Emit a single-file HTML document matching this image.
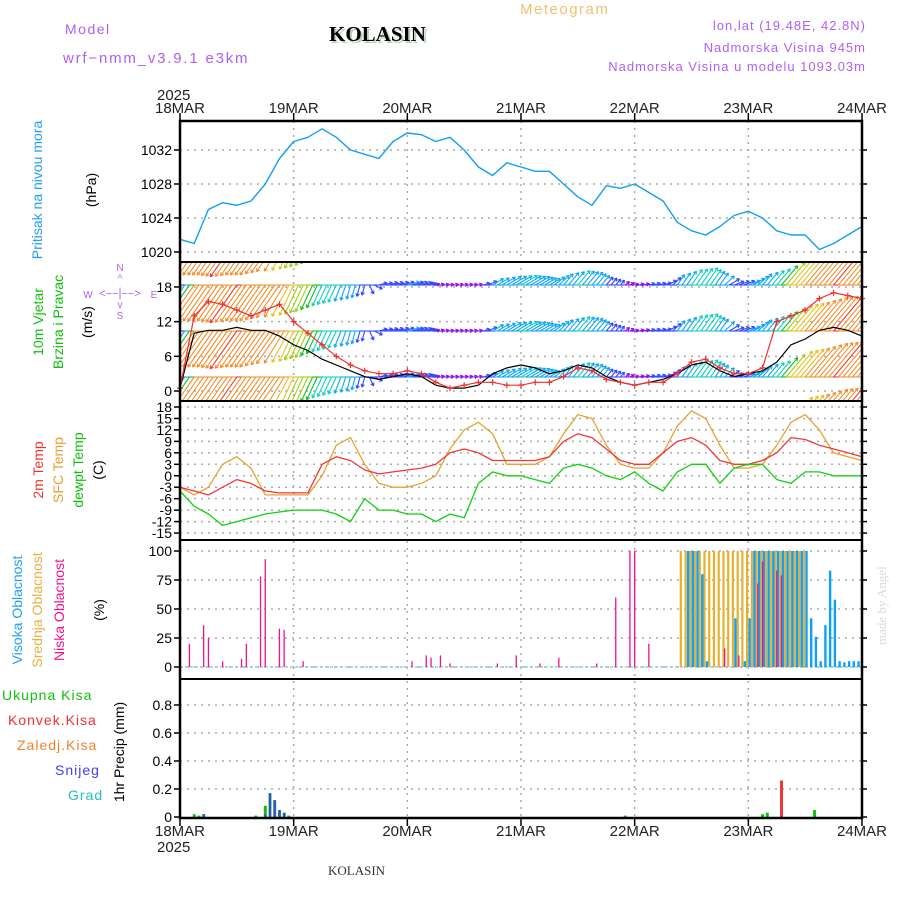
<!DOCTYPE html>
<html><head><meta charset="utf-8"><style>
html,body{margin:0;padding:0;background:#fff;}
svg{display:block;font-family:"Liberation Sans",sans-serif;}
</style></head><body>
<svg id="chart" width="900" height="900" viewBox="0 0 900 900" xmlns="http://www.w3.org/2000/svg">
<defs>
<clipPath id="clipW"><rect x="180" y="262" width="682" height="139"/></clipPath>
</defs>
<rect width="900" height="900" fill="#fff"/>
<text x="65" y="34" font-size="14" fill="#b060f0" letter-spacing="1.5">Model</text>
<text x="63" y="63" font-size="15" fill="#b060f0" letter-spacing="1.8">wrf−nmm_v3.9.1 e3km</text>
<text x="331" y="43" font-size="21" font-weight="bold" font-family="Liberation Serif,serif" fill="#b8d0b8">KOLASIN</text>
<text x="329" y="41" font-size="21" font-weight="bold" font-family="Liberation Serif,serif" fill="#000">KOLASIN</text>
<text x="520" y="14" font-size="15" fill="#f0c070" letter-spacing="1.5">Meteogram</text>
<text x="866" y="30" font-size="13" fill="#b060f0" text-anchor="end" letter-spacing="1">lon,lat (19.48E, 42.8N)</text>
<text x="866" y="52" font-size="13" fill="#b060f0" text-anchor="end" letter-spacing="1">Nadmorska Visina 945m</text>
<text x="866" y="71" font-size="13" fill="#b060f0" text-anchor="end" letter-spacing="1">Nadmorska Visina u modelu 1093.03m</text>
<text x="157" y="100" font-size="15" fill="#222">2025</text>
<text x="157" y="852" font-size="15" fill="#222">2025</text>
<text x="328" y="875" font-size="13" font-family="Liberation Serif,serif" fill="#333">KOLASIN</text>
<text transform="translate(886,645) rotate(-90)" font-size="13" font-family="Liberation Serif,serif" fill="#d8ddd8">made by Angel</text>
<g font-size="14">
<text transform="translate(42,190) rotate(-90)" text-anchor="middle" fill="#20a0f0">Pritisak na nivou mora</text>
<text transform="translate(96,190) rotate(-90)" text-anchor="middle" fill="#000">(hPa)</text>
<text transform="translate(43,322) rotate(-90)" text-anchor="middle" fill="#10c010">10m Vjetar</text>
<text transform="translate(63,322) rotate(-90)" text-anchor="middle" fill="#10c010">Brzina i Pravac</text>
<text transform="translate(92,322) rotate(-90)" text-anchor="middle" fill="#000">(m/s)</text>
<text transform="translate(43,470) rotate(-90)" text-anchor="middle" fill="#f03030">2m Temp</text>
<text transform="translate(63,470) rotate(-90)" text-anchor="middle" fill="#e8a030">SFC Temp</text>
<text transform="translate(83,470) rotate(-90)" text-anchor="middle" fill="#10c010">dewpt Temp</text>
<text transform="translate(103,470) rotate(-90)" text-anchor="middle" fill="#000">(C)</text>
<text transform="translate(22,610) rotate(-90)" text-anchor="middle" fill="#20a0f0">Visoka Oblacnost</text>
<text transform="translate(42,610) rotate(-90)" text-anchor="middle" fill="#e8b040">Srednja Oblacnost</text>
<text transform="translate(64,610) rotate(-90)" text-anchor="middle" fill="#f01090">Niska Oblacnost</text>
<text transform="translate(104,610) rotate(-90)" text-anchor="middle" fill="#000">(%)</text>
<text x="2" y="700" fill="#10c010" letter-spacing="1">Ukupna  Kisa</text>
<text x="8" y="725" fill="#f03030" letter-spacing="1">Konvek.Kisa</text>
<text x="17" y="750" fill="#f08030" letter-spacing="1">Zaledj.Kisa</text>
<text x="55" y="775" fill="#4040f0" letter-spacing="1">Snijeg</text>
<text x="68" y="800" fill="#20c0c0" letter-spacing="1">Grad</text>
<text transform="translate(124,752) rotate(-90)" text-anchor="middle" fill="#000">1hr Precip (mm)</text>
</g>
<g fill="#b060f0" font-size="10">
<text x="120" y="271" text-anchor="middle">N</text>
<text x="120" y="282" text-anchor="middle">^</text>
<text x="120" y="295" text-anchor="middle">|</text>
<text x="120" y="297" text-anchor="middle" font-size="11">&lt;−−|−−&gt;</text>
<text x="88" y="298" text-anchor="middle">W</text>
<text x="154" y="298" text-anchor="middle">E</text>
<text x="120" y="308" text-anchor="middle">v</text>
<text x="120" y="319" text-anchor="middle">S</text>
</g>
<g id="plot"></g>
</svg>
<script>
// ---------- data (3-hourly from 18MAR 00 UTC) ----------
const hours3 = [0,3,6,9,12,15,18,21,24,27,30,33,36,39,42,45,48,51,54,57,60,63,66,69,72,75,78,81,84,87,90,93,96,99,102,105,108,111,114,117,120,123,126,129,132,135,138,141,144];
const dayLabels = ["18MAR","19MAR","20MAR","21MAR","22MAR","23MAR","24MAR"];
const pressure = [1021.5,1021,1025,1025.8,1025.5,1026,1028,1031,1033,1033.5,1034.5,1033.5,1032,1031.5,1031,1033,1034,1033.8,1033,1033.5,1032,1030,1029,1030.5,1030,1029.5,1029.5,1028,1026.5,1025.5,1027.8,1027.5,1028,1027,1026,1023.5,1022.5,1022,1023,1024.3,1024.8,1024,1022.5,1022,1022,1020.3,1021,1022,1023];
const pressureTicks = [1020,1024,1028,1032];
const windSpeed = [0.5,10,10.5,10.5,11,10.5,10.5,9.5,8,7,5.5,4.5,3.5,2.5,2,2.5,3,2.5,1,0.5,0.5,1,3,4,4.5,4,3,3.5,4.5,4,2.5,1.5,1,1.5,2,3,4.5,5,3.5,2.5,3,3.5,5,8,9,10.5,11,10.5,9.5];
const windGust = [0.5,13,15.5,15,14,13,14,15,12,10,8,6,4.5,3.5,3,3,3.5,3,1.5,0.5,1,1.5,1.5,1,1,1.5,1.5,2.5,4,3.5,2,1.5,1,1.5,1.5,3,5,5.5,4,3,3,4,12,13,14,16,17,16.5,16];
const windDir = [235,235,235,235,235,235,235,235,245,245,245,245,255,255,15,15,15,15,15,10,10,10,30,30,30,30,30,50,50,50,50,50,15,15,15,55,55,55,55,20,20,50,50,50,50,50,50,50,50];
const windTicks = [0,6,12,18];
const temp2m = [-3,-4,-5,-3,-1,-2,-4,-4.5,-4.5,-4.5,3,5,4,1.5,0.5,1,1.5,2,3,6,7,6,4,4,4,4,5,9,11,10,7,4,3,3,6,9,10,8,4,3,3,4,6,10,9.5,8,7,6,5];
const tempSfc = [-3,-5,-3,3,5,2,-5,-5,-5,-5,0,8,10,3,-2,-3,-3,-2,0,7,12,14,11,3,3,3,5,11,16,15,8,3,2,2,6,13,17,15,8,2,2,3,8,14,16,12,6,5,4];
const dewpt = [-4,-8,-10,-13,-12,-11,-10,-9.5,-9,-9,-9,-10,-12,-6,-9,-9,-10,-10,-12,-10,-11,-2,1,0,0,-1,-2,2,3,2,0,-1,1,-2,-4,1,3,3,-2,2,3,3,-1,-2,1,1,0,0,0];
const tempTicks = [-15,-12,-9,-6,-3,0,3,6,9,12,15,18];
const lowHours = [2,5,6,9,13,14,17,18,21,22,26,49,52,53,55,57,67,71,76,80,88,92,95,96,99,115,118,122,123,126,127];
const lowCloud = [20,36,25,5,7,20,78,93,33,32,5,5,10,8,10,3,3,10,3,8,3,60,100,100,20,16,10,72,91,83,79];
const midHours = [106,107,108,109,110,111,112,113,114,115,116,117,118,119,120,121,122,123,124,125,126,127,128,129,130,131,132];
const midCloud = [100,100,100,100,100,100,100,100,100,100,100,100,100,100,100,100,100,100,100,100,100,100,100,100,100,100,100];
const highHours = [107,108,109,110,111,117,119,120,121,122,123,124,125,126,127,128,129,130,131,132,133,134,135,136,137,138,139,140,141,142,143];
const highCloud = [100,100,100,80,5,42,5,42,100,100,100,100,100,100,100,100,100,100,100,100,42,26,5,36,83,58,5,4,5,5,5];
const cloudTicks = [0,25,50,75,100];
const precipHours = [3,4,5,16,18,19,20,21,22,23,94,123,124,127,134];
const precipTotal = [0.02,0.01,0.02,0.01,0.08,0.17,0.12,0.05,0.03,0.01,0.01,0.02,0.03,0.26,0.05];
const precipSnow = [0,0,0.02,0,0.02,0.17,0.12,0.05,0.03,0,0,0,0,0,0];
const precipConv = [0,0,0,0,0,0,0,0,0,0,0,0,0,0.26,0];
const precipTicks = [0,0.2,0.4,0.6,0.8];

// ---------- axes ----------
const X0=180, X1=862, H=144;
const x = h => X0 + (h/H)*(X1-X0);
const yP = v => 252 - (v-1020)*8.5;
const yW = v => 391 - v*5.78;
const yT = v => 407 + (18-v)*3.82;
const yC = v => 667 - v*1.16;
const yR = v => 817 - v*140;
const panels = [[121,262],[262,401],[401,540],[540,679],[679,818]];
const NS="http://www.w3.org/2000/svg";
const plot=document.getElementById('plot');
function mk(tag,attrs,parent){const e=document.createElementNS(NS,tag);for(const k in attrs)e.setAttribute(k,attrs[k]);(parent||plot).appendChild(e);return e;}

const grid=mk('g',{stroke:'#aaa','stroke-width':1.5,'stroke-dasharray':'2,5',fill:'none'});


for(let d=1;d<6;d++) mk('line',{x1:x(d*24),x2:x(d*24),y1:121,y2:818},grid);
function hgrid(ticks,f){ticks.forEach(t=>{const y=f(t);mk('line',{x1:X0,x2:X1,y1:y,y2:y},grid);});}
hgrid(pressureTicks,yP);hgrid(windTicks,yW);hgrid(tempTicks,yT);hgrid(cloudTicks,yC);hgrid(precipTicks.slice(1),yR);

function line(hs,vals,f,color,name,w){
  const pts=hs.map((h,i)=>x(h).toFixed(1)+','+f(vals[i]).toFixed(1)).join(' ');
  const p=mk('polyline',{points:pts,fill:'none',stroke:color,'stroke-width':w||1.3,'stroke-linejoin':'round'});
  
  
  return p;
}
line(hours3,pressure,yP,'#10a0f0','pressure-line',1.4);

function interp(arr,h){const i=Math.min(Math.floor(h/3),arr.length-2);const t=(h-i*3)/3;return arr[i]+(arr[i+1]-arr[i])*t;}
function interpDir(h){const i=Math.min(Math.floor(h/3),windDir.length-2);const t=(h-i*3)/3;let a=windDir[i],b=windDir[i+1];let d=((b-a+540)%360)-180;return a+d*t;}
function wcol(s){if(s<1.5)return '#8a10e0';if(s<3)return '#3048ff';if(s<4.5)return '#10a8f0';if(s<6)return '#10d0c0';if(s<7)return '#10c020';if(s<8)return '#a0d010';if(s<9)return '#e8c020';if(s<11)return '#f09030';return '#f03838';}
const wg=mk('g',{'clip-path':'url(#clipW)','stroke-width':1.1,fill:'none'});


const rows=[239,285,331,377,423];
for(let h=0;h<=143;h+=1){
  const s=interp(windSpeed,h), a=interpDir(h)*Math.PI/180;
  const L=Math.max(4,s*4.2);
  const px=x(h);
  const dx=Math.cos(a)*L, dy=-Math.sin(a)*L;
  const c=wcol(s);
  rows.forEach(ry=>{
    const ex=px+dx, ey=ry+dy;
    mk('line',{x1:px,y1:ry,x2:ex,y2:ey,stroke:c},wg);
    const ang=Math.atan2(dy,dx);
    [2.6,-2.6].forEach(o=>{mk('line',{x1:ex,y1:ey,x2:ex-3.5*Math.cos(ang+o*0.2),y2:ey-3.5*Math.sin(ang+o*0.2),stroke:c},wg);});
    mk('line',{x1:px,y1:ry,x2:px+4.7,y2:ry,stroke:c},wg);
  });
}
line(hours3,windSpeed,yW,'#000','wind-speed-line',1.2);
line(hours3,windGust,yW,'#f03030','wind-gust-line',1.2);
hours3.forEach((h,i)=>{const cx=x(h),cy=yW(windGust[i]);
  const g=mk('path',{d:`M${cx-3},${cy}h6M${cx},${cy-3}v6`,stroke:'#f03030','stroke-width':1.2});
  
  });

line(hours3,tempSfc,yT,'#e8a030','sfc-temp-line');
line(hours3,temp2m,yT,'#f03838','t2m-line');
line(hours3,dewpt,yT,'#10d010','dewpt-line');

function bars(hs,vals,f,base,color,w,name,off){
  hs.forEach((h,i)=>{if(vals[i]<=0)return;const y=f(vals[i]);
    const r=mk('rect',{x:(x(h)-w/2+(off||0)).toFixed(1),y:y.toFixed(1),width:w,height:(base-y).toFixed(1),fill:color});
    
    });
}
mk('line',{x1:X0,x2:X1,y1:667,y2:667,stroke:'#9cd','stroke-width':1.5,'stroke-dasharray':'3,2'});
bars(midHours,midCloud,yC,667,'#e8b030',2.2,'mid-cloud-bar',-1.2);
bars(highHours,highCloud,yC,667,'#10a0f8',2.4,'high-cloud-bar',1.3);
bars(lowHours,lowCloud,yC,667,'#f01090',1.3,'low-cloud-bar',0);

bars(precipHours,precipTotal,yR,818,'#10c010',3,'total-precip-bar');
bars(precipHours,precipSnow,yR,818,'#4040f0',2,'snow-bar');
bars(precipHours,precipConv,yR,818,'#f03838',3,'convective-bar');

const fr=mk('g',{stroke:'#000',fill:'none'});


mk('rect',{x:X0,y:121,width:X1-X0,height:697,'stroke-width':2.5},fr);
panels.slice(1).forEach(p=>mk('line',{x1:X0,x2:X1,y1:p[0],y2:p[0],'stroke-width':2},fr));
const tl=mk('g',{'font-size':14,fill:'#000','text-anchor':'end'});


function yt(ticks,f,fmt){ticks.forEach(t=>{const y=f(t);mk('line',{x1:X0-6,x2:X0,y1:y,y2:y,stroke:'#000','stroke-width':1.5},fr);mk('line',{x1:X1,x2:X1+5,y1:y,y2:y,stroke:'#000','stroke-width':1.5},fr);const tx=mk('text',{x:X0-8,y:y+5},tl);tx.textContent=fmt?fmt(t):t;});}
yt(pressureTicks,yP);yt(windTicks,yW);yt(tempTicks,yT);yt(cloudTicks,yC);yt(precipTicks,yR,v=>v===0?'0':v.toFixed(1));
const xl=mk('g',{'font-size':15,fill:'#222','text-anchor':'middle'});


dayLabels.forEach((lab,i)=>{const px=x(i*24);
  mk('line',{x1:px,x2:px,y1:113,y2:121,stroke:'#000','stroke-width':1.5},fr);
  mk('line',{x1:px,x2:px,y1:818,y2:826,stroke:'#000','stroke-width':1.5},fr);
  const t1=mk('text',{x:px,y:113},xl);t1.textContent=lab;
  const t2=mk('text',{x:px,y:836},xl);t2.textContent=lab;});
</script>
</body></html>
